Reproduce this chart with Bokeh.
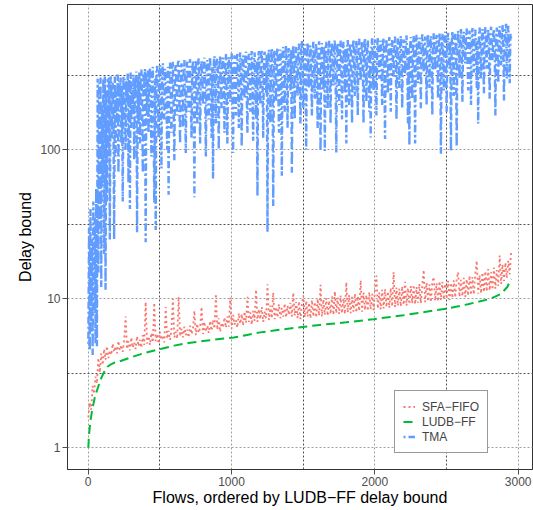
from bokeh.plotting import figure
from bokeh.models import FixedTicker, PrintfTickFormatter, Legend, LegendItem, Range1d
from bokeh.embed import file_html
from bokeh.resources import INLINE

# ordered flow index (SFA-FIFO sampled every 10th flow, TMA every 5th flow)
sfa_flow = list(range(1, 2952, 10))
tma_flow = list(range(1, 2952, 5))

sfa_fifo = [
    1.6, 2.0, 1.8, 2.6, 2.3, 3.0, 2.7, 4.0, 3.2, 4.3, 3.6, 4.6, 3.9, 4.8, 4.0, 4.5,
    4.2, 5.0, 4.4, 4.8, 4.3, 5.2, 4.5, 4.9, 4.4, 5.3,
    7.6, 4.6, 5.2, 4.5, 5.5, 4.7, 5.1, 4.6, 5.6, 4.8,
    5.3, 4.7, 5.7, 4.9, 9.5, 5.0, 5.6, 4.9, 5.9, 5.1,
    9.4, 5.2, 5.8, 5.0, 6.0, 5.3, 5.7, 5.1, 8.8, 5.4,
    6.1, 5.3, 6.2, 10.0, 5.5, 6.0, 5.4, 10.3, 5.6, 6.3,
    5.5, 6.5, 5.7, 6.2, 5.5, 6.6, 5.8, 6.3, 8.3, 5.7,
    6.8, 5.9, 6.4, 8.8, 5.8, 7.0, 6.0, 6.6, 5.9, 7.1,
    6.1, 7.2, 6.3, 10.8, 6.2, 7.4, 6.0, 6.9, 6.4, 7.5,
    6.4, 7.6, 6.5, 10.2, 6.3, 7.8, 6.7, 7.2, 6.4, 8.0,
    6.8, 7.9, 6.6, 8.2, 6.9, 10.3, 7.0, 8.1, 6.7, 8.3,
    7.1, 11.5, 7.0, 8.5, 7.3, 8.8, 7.0, 8.2, 7.4, 12.5,
    7.2, 9.0, 7.4, 11.0, 7.3, 8.8, 7.5, 9.2, 7.4, 8.7,
    7.6, 9.3, 7.5, 9.0, 7.8, 9.4, 7.6, 11.0, 7.7, 9.5,
    7.4, 9.6, 7.3, 9.2, 10.5, 7.5, 9.7, 7.6, 9.4, 7.4,
    9.8, 7.6, 9.5, 7.5, 10.0, 7.7, 12.4, 7.6, 9.9, 7.8,
    10.1, 7.7, 9.7, 7.9, 10.4, 7.8, 11.2, 8.0, 10.2, 7.9,
    10.5, 8.0, 10.0, 7.9, 12.9, 8.1, 10.6, 8.0, 10.3, 8.2,
    10.8, 8.1, 10.4, 8.3, 13.3, 8.2, 11.0, 8.4, 10.6, 8.3,
    11.1, 8.5, 10.8, 8.4, 11.4, 14.3, 8.6, 11.0, 8.5, 11.5,
    8.6, 11.6, 8.8, 11.2, 8.7, 11.8, 8.9, 15.1, 8.8, 11.9,
    9.0, 11.7, 8.9, 12.1, 9.1, 13.0, 9.0, 11.8, 9.2, 12.2,
    9.3, 12.4, 9.2, 12.0, 9.4, 12.6, 9.3, 12.3, 15.6, 9.5,
    12.8, 9.6, 12.5, 9.5, 13.0, 14.0, 9.7, 12.7, 9.6, 13.1,
    9.8, 13.0, 9.9, 12.6, 10.0, 13.2, 9.8, 12.8, 10.1, 13.3,
    10.2, 13.6, 15.1, 10.3, 13.4, 10.4, 13.8, 10.3, 13.5, 10.5,
    14.3, 10.6, 14.0, 10.7, 14.8, 18.0, 10.8, 14.4, 10.9, 15.0,
    11.1, 15.3, 11.2, 15.8, 11.4, 15.1, 11.5, 16.2, 11.7, 15.6,
    12.2, 19.5, 12.6, 17.0, 13.2, 17.5, 13.8, 18.0, 14.6, 21.0,
]

tma = [
    5, 30, 4.5, 40, 6, 25, 4.2, 45, 8, 35, 5, 55, 4.8, 300, 15, 280,
    30, 305, 12, 200, 60, 300, 20, 310, 11.5, 250, 45, 300, 90, 305, 25, 310,
    300, 120, 280, 180, 25, 310, 90, 250, 160, 320, 70, 290, 200, 305, 110, 270, 45, 315, 150, 300,
    100, 290, 210, 325, 60, 300, 40, 330, 140, 260, 180, 320, 85, 300, 230, 335, 28, 310, 150, 330,
    110, 300, 345, 200, 70, 320, 260, 350, 24, 330, 170, 340, 130, 290, 355, 220, 90, 330, 360, 180,
    44, 300, 29, 350, 365, 210, 120, 340, 370, 250, 75, 330, 380, 190, 160, 350, 300, 230, 100, 360,
    50, 320, 385, 240, 130, 350, 390, 200, 85, 340, 370, 260, 170, 380, 395, 220, 110, 340, 380, 250,
    140, 360, 400, 230, 95, 350, 390, 280, 180, 370, 405, 210, 120, 330, 395, 260, 48, 360, 400, 230,
    150, 380, 410, 260, 110, 350, 395, 300, 200, 370, 415, 240, 90, 360, 400, 280, 160, 390, 420, 250,
    120, 360, 64, 380, 425, 260, 150, 390, 410, 300, 100, 370, 430, 270, 190, 400, 415, 280, 130, 380,
    440, 230, 110, 390, 420, 300, 210, 400, 445, 250, 95, 380, 430, 290, 170, 410, 440, 260, 140, 390,
    450, 280, 105, 400, 430, 310, 220, 420, 455, 240, 130, 390, 440, 300, 180, 410, 460, 270, 115, 400,
    450, 300, 160, 400, 49, 420, 460, 280, 200, 430, 470, 310, 120, 410, 455, 290, 240, 440, 28, 420,
    470, 320, 150, 420, 480, 300, 42, 430, 465, 330, 210, 440, 485, 280, 130, 420, 470, 310, 67, 450,
    490, 320, 180, 440, 500, 300, 140, 460, 480, 350, 250, 470, 70, 420, 505, 330, 160, 450, 490, 310,
    230, 470, 515, 350, 150, 480, 540, 320, 190, 460, 510, 360, 100, 470, 525, 340, 260, 490, 500, 300,
    170, 460, 530, 370, 220, 480, 515, 330, 140, 470, 535, 360, 98, 450, 520, 310, 250, 490, 98, 470,
    530, 340, 190, 480, 540, 380, 150, 470, 525, 350, 270, 500, 545, 330, 96, 460, 520, 370, 200, 490,
    540, 350, 160, 470, 530, 390, 240, 480, 110, 460, 545, 360, 200, 490, 520, 340, 150, 470, 550, 380,
    230, 480, 540, 360, 170, 490, 555, 400, 290, 470, 530, 350, 150, 500, 560, 370, 210, 480, 545, 390,
    180, 470, 121, 490, 560, 380, 250, 500, 550, 360, 170, 480, 565, 410, 300, 490, 540, 370, 200, 500,
    560, 390, 118, 480, 555, 370, 240, 510, 570, 400, 180, 490, 545, 380, 310, 500, 575, 420, 160, 490,
    560, 380, 260, 500, 580, 410, 190, 490, 550, 400, 320, 510, 585, 390, 150, 480, 107, 500, 570, 420,
    220, 500, 580, 400, 110, 510, 590, 430, 280, 500, 565, 390, 190, 520, 595, 440, 330, 500, 575, 410,
    200, 510, 600, 420, 260, 520, 580, 400, 170, 500, 605, 450, 340, 530, 590, 410, 220, 520, 610, 440,
    94, 500, 600, 430, 250, 530, 620, 450, 180, 520, 610, 420, 350, 540, 98, 510, 625, 460, 230, 540,
    600, 440, 105, 520, 630, 470, 300, 550, 645, 450, 210, 530, 620, 480, 380, 560, 650, 460, 250, 540,
    630, 470, 200, 550, 655, 480, 330, 560, 640, 460, 260, 540, 150, 570, 660, 490, 300, 560, 645, 470,
    240, 560, 665, 490, 350, 580, 640, 470, 220, 570, 670, 500, 400, 590, 650, 480, 170, 560, 660, 500,
    280, 580, 675, 500, 370, 600, 690, 520, 214, 590, 660, 700, 300, 580, 680, 510, 280, 600, 560,
]

ludb_flow = [1, 5, 15, 28, 45, 63, 85, 109, 135, 156,
             180, 210, 300, 400, 505, 600, 700, 800, 900, 1016,
             1100, 1200, 1342, 1482, 1600, 1800, 1993, 2200, 2400, 2505,
             2650, 2807, 2880, 2924, 2952]
ludb_ff = [1.0, 1.2, 1.5, 1.8, 2.15, 2.45, 2.85, 3.2, 3.5, 3.62,
           3.72, 3.78, 4.05, 4.35, 4.6, 4.85, 5.05, 5.2, 5.35, 5.5,
           5.7, 5.95, 6.2, 6.45, 6.65, 6.95, 7.3, 7.75, 8.3, 8.6,
           9.2, 10.0, 10.8, 12.0, 13.6]

series_labels = ["SFA\u2212FIFO", "LUDB\u2212FF", "TMA"]
x_ticks = [0, 1000, 2000, 3000]
x_minor = [500, 1500, 2500]
y_ticks = [1, 10, 100]
y_minor = [3.1623, 31.623, 316.23]

FONT = "Liberation Sans"

p = figure(width=533, height=510,
           x_range=Range1d(-144.4, 3100), y_range=Range1d(0.715, 944),
           y_axis_type="log", output_backend="svg", toolbar_location=None,
           min_border_left=67, min_border_right=1, min_border_top=4,
           min_border_bottom=41)
p.background_fill_color = "white"
p.border_fill_color = "white"
p.outline_line_color = "#333333"
p.outline_line_width = 1

r_sfa = p.line(sfa_flow, sfa_fifo, line_color="#F8766D", line_width=1.8,
               line_dash="2 3")
r_ludb = p.line(ludb_flow, ludb_ff, line_color="#00BA38", line_width=2,
                line_dash="9 5")
r_tma = p.line(tma_flow, tma, line_color="#619CFF", line_width=2.4,
               line_dash="2 3 7 3")

p.xaxis.ticker = FixedTicker(ticks=x_ticks, minor_ticks=x_minor)
p.yaxis.ticker = FixedTicker(ticks=y_ticks, minor_ticks=y_minor)
p.xaxis.formatter = PrintfTickFormatter(format="%d")
p.yaxis.formatter = PrintfTickFormatter(format="%d")

for g in (p.xgrid, p.ygrid):
    g.grid_line_color = "#a0a0a0"
    g.grid_line_dash = "2 2"
    g.grid_line_width = 1
    g.minor_grid_line_color = "#505050"
    g.minor_grid_line_dash = "2 2"
    g.minor_grid_line_width = 1

p.axis.axis_line_color = "#333333"
p.axis.major_tick_line_color = "#4d4d4d"
p.axis.major_tick_in = 0
p.axis.major_tick_out = 5
p.axis.minor_tick_line_color = None
p.axis.major_label_text_font = FONT
p.axis.major_label_text_font_size = "12px"
p.axis.major_label_text_color = "#4d4d4d"
p.axis.major_label_standoff = 2
p.axis.axis_label_text_font = FONT
p.axis.axis_label_text_font_size = "16px"
p.axis.axis_label_text_font_style = "normal"
p.axis.axis_label_text_color = "black"
p.xaxis.axis_label_standoff = 0
p.yaxis.axis_label_standoff = 3
p.xaxis.axis_label = "Flows, ordered by LUDB\u2212FF delay bound"
p.yaxis.axis_label = "Delay bound"

legend = Legend(items=[LegendItem(label=series_labels[0], renderers=[r_sfa]),
                       LegendItem(label=series_labels[1], renderers=[r_ludb]),
                       LegendItem(label=series_labels[2], renderers=[r_tma])],
                location=(327, 16), margin=0, padding=8, spacing=0,
                glyph_width=12, glyph_height=15, label_height=15,
                label_standoff=7,
                label_text_font=FONT, label_text_font_size="12px",
                border_line_color="#333333", border_line_width=1,
                background_fill_color="white", background_fill_alpha=1)
p.add_layout(legend)

open("out.html", "w").write(file_html(p, INLINE))
